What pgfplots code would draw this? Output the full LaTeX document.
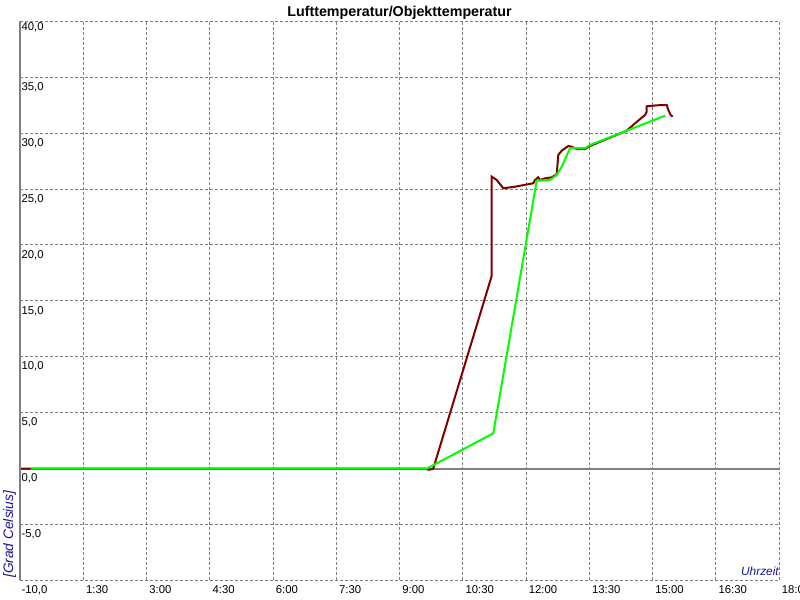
\documentclass[border=0pt]{standalone}
\usepackage{pgfplots}
\pgfplotsset{compat=1.18}
\usepackage{fontspec}
\setmainfont{Liberation Sans}
\definecolor{gridgray}{RGB}{128,128,128}
\definecolor{maroonc}{RGB}{128,0,0}
\definecolor{limec}{RGB}{0,255,0}
\definecolor{labblue}{RGB}{25,20,150}
\begin{document}
\begin{tikzpicture}[x=1pt,y=1pt]
\useasboundingbox (0,0) rectangle (600,450);
\begin{axis}[
  at={(15pt,14.625pt)}, anchor=south west,
  scale only axis, width=569.25pt, height=419.4pt,
  xmin=0, xmax=18, ymin=-10, ymax=40,
  clip=false,
  xtick={0,1.5,3,4.5,6,7.5,9,10.5,12,13.5,15,16.5,18},
  xticklabels={,1:30,3:00,4:30,6:00,7:30,9:00,10:30,12:00,13:30,15:00,16:30,18:00},
  ytick={-10,-5,0,5,10,15,20,25,30,35,40},
  yticklabels={{-10,0},{-5,0},{0,0},{5,0},{10,0},{15,0},{20,0},{25,0},{30,0},{35,0},{\raisebox{3.2pt}[\height][\depth]{40,0}}},
  major tick length=0pt,
  grid=major,
  major grid style={gridgray, line width=0.75pt, dash pattern=on 2.25pt off 1.5pt},
  axis line style={draw=none},
  tick label style={font=\fontsize{8.5}{10}\selectfont, text=black, inner sep=0pt},
  xticklabel style={anchor=north west, xshift=1.9pt, yshift=-3.4pt},
  yticklabel style={anchor=north west, xshift=1pt, yshift=-3.75pt},
  every axis title shift=0pt,
  title={Lufttemperatur/Objekttemperatur},
  title style={at={(0.5,1)}, anchor=base, yshift=3.45pt, inner sep=0pt, font=\bfseries\fontsize{10.7}{12}\selectfont},
  xlabel={Uhrzeit},
  every axis x label/.style={at={(axis description cs:1,0.008)}, anchor=south east, inner sep=0pt, font=\itshape\fontsize{8.9}{10}\selectfont, text=labblue},
  ylabel={[Grad Celsius]},
  every axis y label/.style={at={(axis description cs:-0.0224,0.0045)}, rotate=90, anchor=north west, inner sep=0pt, font=\itshape\fontsize{10.3}{12}\selectfont, text=labblue},
]
\addplot[gridgray, line width=1.5pt] coordinates {(0,0) (18,0)};
\addplot[maroonc, line width=1.5pt] coordinates {
(0,0) (9.60,0) (9.70,-0.1) (9.80,0) (11.186,17.23) (11.186,26.11) (11.305,25.81) (11.462,25.07)
(11.739,25.21) (12.173,25.52) (12.213,25.81) (12.292,26.05) (12.332,25.81) (12.45,25.96)
(12.609,26.05) (12.728,26.32) (12.766,28.05) (12.846,28.43) (13.003,28.85) (13.083,28.79)
(13.202,28.58) (13.399,28.58) (13.518,28.85) (14.388,30.22) (14.585,30.88) (14.822,31.62)
(14.862,31.92) (14.862,32.40) (15.114,32.49) (15.337,32.52) (15.375,32.07) (15.431,31.62)
(15.479,31.47)};
\addplot[limec, line width=1.5pt] coordinates {
(0.26,0) (9.645,0) (11.224,3.16) (12.254,25.75) (12.569,25.81) (12.728,26.26) (12.847,27.0)
(13.044,28.65) (13.400,28.65) (13.518,28.94) (15.297,31.56)};
\draw[gridgray, line width=1.5pt] (rel axis cs:0,0) -- (rel axis cs:0,1);
\end{axis}
\end{tikzpicture}
\end{document}
